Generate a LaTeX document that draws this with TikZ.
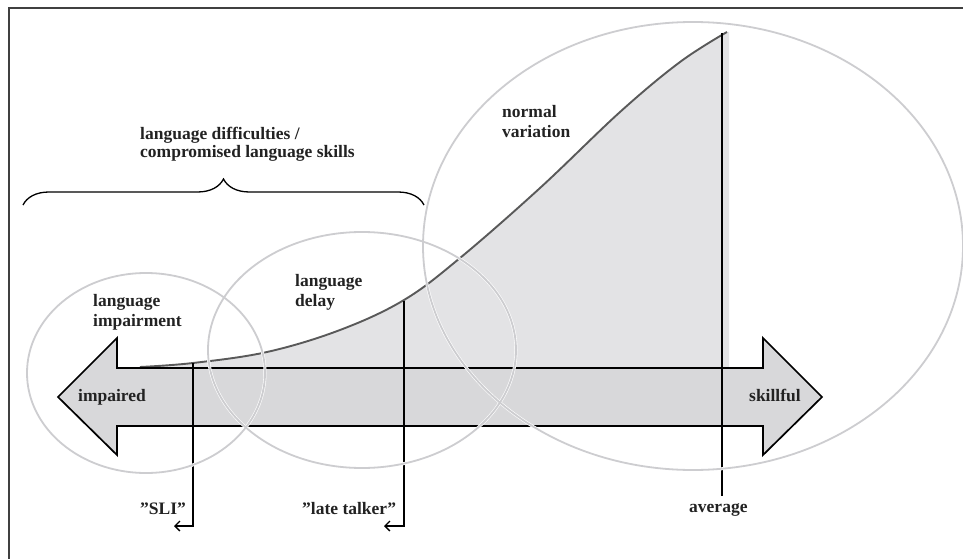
\documentclass[tikz,border=0pt]{standalone}
\usepackage{fontspec}
\setmainfont{Liberation Serif}
\usetikzlibrary{arrows.meta,decorations.pathreplacing}
\definecolor{areagray}{HTML}{E3E3E5}
\definecolor{arrowgray}{HTML}{D8D8DA}
\definecolor{ringgray}{HTML}{CDCDD0}
\definecolor{inkgray}{HTML}{222222}
\tikzset{
  lbl/.style={inner sep=0pt, anchor=west, align=left, text=inkgray,
    font=\bfseries\fontsize{17.5}{20}\selectfont},
  ring/.style={draw=ringgray, line width=1.8pt},
  halo/.style={draw=white, line width=3pt},
  pointer/.style={line width=1.3pt, -{Straight Barb[length=5pt,width=10pt]}},
}
\begin{document}
\begin{tikzpicture}[x=1pt, y=-1pt]
\useasboundingbox (0,0) rectangle (963,559);
\clip (0,0) rectangle (963,559);
\draw[line width=2pt, black!75] (8.5,1000) -- (8.5,8) -- (2000,8);

% area under the curve
\fill[areagray] (117,368) -- plot[smooth, tension=0.6] coordinates {(140,367) (193,363) (267,352) (340,330) (404,300) (460,258) (540,188) (620,112) (680,62) (727,32)} -- (729,32) -- (729,368) -- cycle;
\draw[line width=1.9pt, black!65] plot[smooth, tension=0.6] coordinates {(140,367) (193,363) (267,352) (340,330) (404,300) (460,258) (540,188) (620,112) (680,62) (727,32)};

% skill axis
\draw[fill=arrowgray, line width=1.7pt, line join=miter] (58,397) -- (117,338) -- (117,368) -- (763,368) -- (763,338) -- (822,397) -- (763,455) -- (763,426) -- (117,426) -- (117,455) -- cycle;

% labels
\node[lbl] (impair) at (93,312) {language\\impairment};
\node[lbl] (delay) at (295,292) {language\\delay};
\node[lbl] (normal) at (502,122) {normal\\variation};
\node[lbl, font=\bfseries\fontsize{17.5}{18}\selectfont] (difficult) at (140,144) {language difficulties /\\compromised language skills};
\node[lbl] (impaired) at (78,397) {impaired};
\node[lbl] (skillful) at (749,395) {skillful};
\node[lbl] (sli) at (140,509) {”SLI”};
\node[lbl] (late) at (302,509) {”late talker”};
\node[lbl] (avg) at (689,510) {average};

% pointers
\coordinate (slitop) at (193,363);
\coordinate (sliend) at (174,526);
\coordinate (latetop) at (404,301);
\coordinate (lateend) at (384,526);
\coordinate (avgtop) at (722,33);
\coordinate (avgfoot) at (722,496);
\draw[pointer] (slitop) |- (sliend);
\draw[pointer] (latetop) |- (lateend);
\draw[line width=1.3pt] (avgtop) -- (avgfoot);

% brace
\coordinate (braceL) at (23,205);
\coordinate (braceR) at (424,205);
\draw[decorate, decoration={brace, amplitude=26pt}, line width=1.3pt] (braceL) -- (braceR);

% groups
\foreach \cx/\cy/\rx/\ry in {146/373/119/100, 362/350/154/118, 693/246/270/224}
  \draw[halo] (\cx,\cy) ellipse [x radius=\rx, y radius=\ry];
\foreach \cx/\cy/\rx/\ry in {146/373/119/100, 362/350/154/118, 693/246/270/224}
  \draw[ring] (\cx,\cy) ellipse [x radius=\rx, y radius=\ry];
\end{tikzpicture}
\end{document}
